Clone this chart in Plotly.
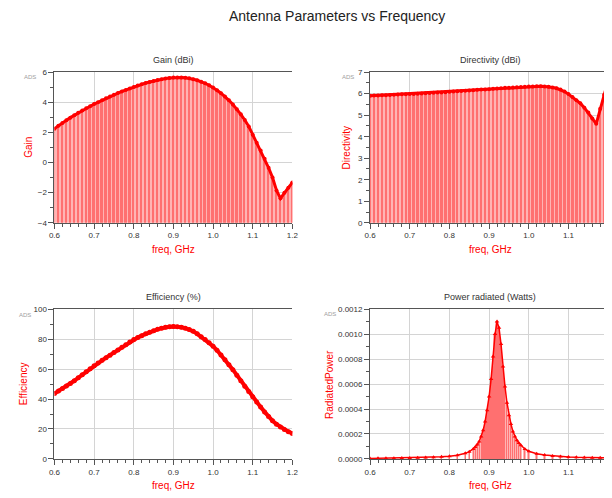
import plotly.graph_objects as go

# ---------------- data ----------------
freq = [round(0.60 + 0.01 * i, 2) for i in range(61)]

gain_dbi = [2.25, 2.45, 2.63, 2.81, 2.98, 3.14, 3.30, 3.45, 3.60, 3.74,
            3.88, 4.01, 4.14, 4.26, 4.38, 4.50, 4.61, 4.72, 4.82, 4.92,
            5.02, 5.11, 5.20, 5.28, 5.35, 5.42, 5.48, 5.53, 5.58, 5.61,
            5.64, 5.65, 5.65, 5.63, 5.59, 5.53, 5.46, 5.37, 5.26, 5.13,
            4.98, 4.80, 4.60, 4.38, 4.13, 3.85, 3.54, 3.20, 2.82, 2.40,
            1.85, 1.32, 0.80, 0.25, -0.35, -1.00, -1.85, -2.38, -2.00, -1.67,
            -1.33]

directivity_dbi = [5.90, 5.91, 5.92, 5.93, 5.93, 5.94, 5.95, 5.96, 5.97, 5.97,
                   5.98, 5.99, 6.00, 6.01, 6.02, 6.03, 6.04, 6.05, 6.06, 6.07,
                   6.09, 6.10, 6.11, 6.12, 6.14, 6.15, 6.16, 6.18, 6.19, 6.20,
                   6.21, 6.23, 6.24, 6.25, 6.27, 6.28, 6.29, 6.30, 6.31, 6.32,
                   6.33, 6.33, 6.34, 6.34, 6.33, 6.32, 6.29, 6.25, 6.19, 6.10,
                   5.98, 5.84, 5.70, 5.55, 5.35, 5.12, 4.85, 4.60, 5.30, 5.95,
                   6.60]

efficiency_pct = [43.7, 45.3, 47.0, 48.7, 50.4, 52.2, 54.2, 56.2, 58.2, 60.2,
                  62.2, 64.0, 65.8, 67.6, 69.3, 71.0, 72.8, 74.6, 76.3, 78.0,
                  79.7, 81.0, 82.3, 83.5, 84.6, 85.6, 86.5, 87.3, 87.9, 88.3,
                  88.4, 88.3, 87.9, 87.3, 86.4, 85.2, 83.5, 81.6, 79.8, 77.6,
                  75.3, 72.5, 69.4, 66.2, 62.9, 59.6, 55.9, 52.2, 48.6, 45.0,
                  41.5, 38.0, 34.6, 31.4, 28.3, 25.5, 23.2, 21.3, 19.6, 18.2,
                  17.0]

power_freq = [0.60, 0.62, 0.64, 0.66, 0.68, 0.70, 0.72, 0.74, 0.76, 0.78,
              0.80, 0.82, 0.84, 0.85, 0.86, 0.865, 0.87, 0.875, 0.88, 0.885,
              0.89, 0.895, 0.90, 0.905, 0.91, 0.915, 0.92, 0.925, 0.93, 0.935,
              0.94, 0.945, 0.95, 0.955, 0.96, 0.965, 0.97, 0.975, 0.98, 0.99,
              1.00, 1.02, 1.04, 1.06, 1.08, 1.10, 1.12, 1.14, 1.16, 1.18, 1.20]
power_w = [0.000004, 0.000005, 0.000005, 0.000006, 0.000007, 0.000008, 0.000009,
           0.000011, 0.000013, 0.000017, 0.000022, 0.000030, 0.000045, 0.000058,
           0.000080, 0.000096, 0.000115, 0.000140, 0.000180, 0.000230, 0.000300,
           0.000390, 0.000500, 0.000640, 0.000820, 0.001000, 0.001100, 0.001050,
           0.000920, 0.000740, 0.000580, 0.000450, 0.000350, 0.000280, 0.000220,
           0.000180, 0.000150, 0.000128, 0.000110, 0.000080, 0.000062, 0.000042,
           0.000031, 0.000024, 0.000019, 0.000016, 0.000013, 0.000011, 0.000010,
           0.000009, 0.000008]

# ---------------- figure ----------------
# page body has an 8px margin: figure is drawn offset by (8, 8) in the window
OFF = 8
W, H = 612 - OFF, 498 - OFF
RED = "#ff0000"
LIGHT = "#ffb4b4"
MID = "rgba(255,90,90,0.75)"

fig = go.Figure()

def px_x(p):
    return (p - OFF) / W

def px_y(p):
    return 1 - (p - OFF) / H

panels = {
    "gain": dict(x=(49.3, 292.0), y=(69.3, 222.7)),
    "dir": dict(x=(371.3, 612.0), y=(69.3, 222.7)),
    "eff": dict(x=(49.3, 292.0), y=(310.7, 463.3)),
    "pow": dict(x=(371.3, 612.0), y=(310.7, 463.3)),
}

def add_bars(xs, ys, base, xa, ya, full_w, narrow_w):
    lengths = [v - base for v in ys]
    fig.add_trace(go.Bar(x=xs, y=lengths, base=base, width=full_w,
                         marker=dict(color=LIGHT, line=dict(width=0)),
                         xaxis=xa, yaxis=ya, showlegend=False, hoverinfo="skip"))
    fig.add_trace(go.Bar(x=xs, y=lengths, base=base, width=narrow_w,
                         marker=dict(color=MID, line=dict(width=0)),
                         xaxis=xa, yaxis=ya, showlegend=False, hoverinfo="skip"))

# Gain
add_bars(freq, gain_dbi, -4, "x", "y", 0.01, 0.006)
fig.add_trace(go.Scatter(x=freq, y=gain_dbi, mode="lines+markers",
                         line=dict(color=RED, width=3), marker=dict(color=RED, size=4),
                         xaxis="x", yaxis="y", showlegend=False))
# Directivity
add_bars(freq, directivity_dbi, 0, "x2", "y2", 0.01, 0.006)
fig.add_trace(go.Scatter(x=freq, y=directivity_dbi, mode="lines+markers",
                         line=dict(color=RED, width=3), marker=dict(color=RED, size=4),
                         xaxis="x2", yaxis="y2", showlegend=False))
# Efficiency
fig.add_trace(go.Scatter(x=freq, y=efficiency_pct, mode="lines+markers",
                         line=dict(color=RED, width=4), marker=dict(color=RED, size=5),
                         xaxis="x3", yaxis="y3", showlegend=False))
# Power
add_bars(power_freq, power_w, 0, "x4", "y4", 0.005, 0.003)
fig.add_trace(go.Scatter(x=power_freq, y=power_w, mode="lines+markers",
                         line=dict(color=RED, width=1.5),
                         marker=dict(color=RED, size=4, symbol="triangle-up"),
                         xaxis="x4", yaxis="y4", showlegend=False))

tick_font = dict(family="Arial, Liberation Sans, sans-serif", size=8, color="#333333")
GRID = "#d4d4d4"
AXL = "#555555"

def xaxis_cfg(dom, rng):
    return dict(domain=[px_x(dom[0]), px_x(dom[1])], range=rng, dtick=0.1, tick0=0.6,
                tickformat=".1f", showgrid=True, gridcolor=GRID, gridwidth=1,
                showline=True, linecolor=AXL, linewidth=1, mirror=True,
                ticks="outside", ticklen=5, tickcolor=AXL, tickfont=tick_font,
                minor=dict(dtick=0.02, tick0=0.6, ticks="outside", ticklen=3,
                           tickcolor=AXL, showgrid=False),
                zeroline=False, fixedrange=True)

def yaxis_cfg(dom, rng, dtick, mdtick, fmt):
    return dict(domain=[px_y(dom[1]), px_y(dom[0])], range=rng, dtick=dtick,
                tickformat=fmt, showgrid=True, gridcolor=GRID, gridwidth=1,
                showline=True, linecolor=AXL, linewidth=1, mirror=False,
                ticks="outside", ticklen=5, tickcolor=AXL, tickfont=tick_font,
                minor=dict(dtick=mdtick, ticks="outside", ticklen=3,
                           tickcolor=AXL, showgrid=False),
                zeroline=False, fixedrange=True)

# right-hand panels are cut by the window edge: 404.8 px per GHz
dir_right = 0.6 + (612.0 - 371.3) / 404.8

fig.update_layout(
    width=W, height=H, margin=dict(l=0, r=0, t=0, b=0),
    paper_bgcolor="white", plot_bgcolor="white",
    barmode="overlay", bargap=0,
    font=dict(family="Arial, Liberation Sans, sans-serif"),
    xaxis=xaxis_cfg(panels["gain"]["x"], [0.6, 1.2]),
    yaxis=yaxis_cfg(panels["gain"]["y"], [-4, 6], 2, 1, "d"),
    xaxis2=dict(xaxis_cfg(panels["dir"]["x"], [0.6, dir_right]), anchor="y2"),
    yaxis2=dict(yaxis_cfg(panels["dir"]["y"], [0, 7], 1, 0.5, "d"), anchor="x2"),
    xaxis3=dict(xaxis_cfg(panels["eff"]["x"], [0.6, 1.2]), anchor="y3"),
    yaxis3=dict(yaxis_cfg(panels["eff"]["y"], [0, 100], 20, 10, "d"), anchor="x3"),
    xaxis4=dict(xaxis_cfg(panels["pow"]["x"], [0.6, dir_right]), anchor="y4"),
    yaxis4=dict(yaxis_cfg(panels["pow"]["y"], [0, 0.0012], 0.0002, 0.0001, ".4f"), anchor="x4"),
)

annots = []
def txt(x, y, s, size, color, angle=0):
    annots.append(dict(x=px_x(x), y=px_y(y), xref="paper", yref="paper", text=s,
                       showarrow=False, textangle=angle, xanchor="center", yanchor="middle",
                       font=dict(family="Arial, Liberation Sans, sans-serif", size=size, color=color)))

txt(337.5, 12, "Antenna Parameters vs Frequency", 14, "#222222")
txt(170.6, 57.3, "Gain (dBi)", 9, "#333333")
txt(494.0, 57.3, "Directivity (dBi)", 9, "#333333")
txt(170.6, 298.3, "Efficiency (%)", 9, "#333333")
txt(494.0, 298.3, "Power radiated (Watts)", 9, "#333333")
for xx, yy in [(24.5, 74.3), (349, 74.3), (19, 316.7), (330, 315.7)]:
    txt(xx, yy, "ADS", 6, "#a0a0a0")
txt(22.7, 146, "Gain", 10, RED, -90)
txt(347.7, 146, "Directivity", 10, RED, -90)
txt(17.3, 387, "Efficiency", 10, RED, -90)
txt(329.3, 387, "RadiatedPower", 10, RED, -90)
for xx, yy in [(170.6, 250), (494.0, 250), (170.6, 490.5), (494.0, 490.5)]:
    txt(xx, yy, "freq, GHz", 10, RED)

fig.update_layout(annotations=annots)
fig.write_html("out.html")
